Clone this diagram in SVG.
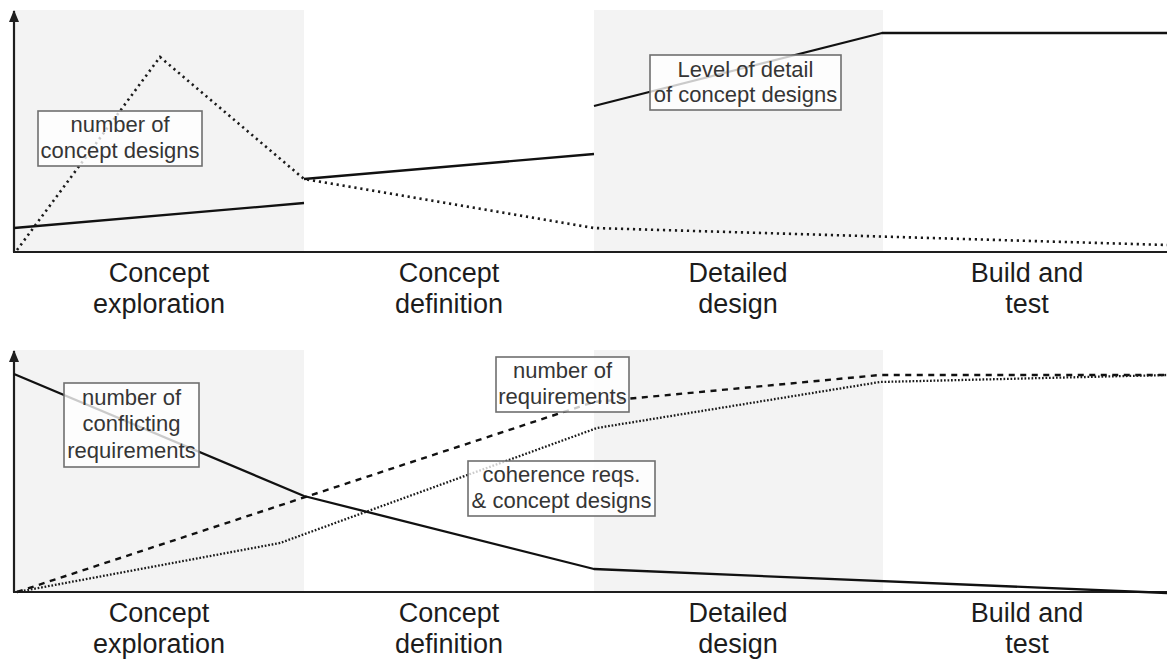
<svg xmlns="http://www.w3.org/2000/svg" width="1167" height="661" viewBox="0 0 1167 661">
  <style>
    .bg { fill: #ffffff; }
    .shade { fill: #f3f3f3; }
    .axis { stroke: #1e1e1e; stroke-width: 2.2; fill: none; }
    .solid { stroke: #111; stroke-width: 2.3; fill: none; stroke-linejoin: round; }
    .dotted { stroke: #1a1a1a; stroke-width: 2.6; fill: none; stroke-dasharray: 2.2 3.8; }
    .fine { stroke: #1a1a1a; stroke-width: 2.3; fill: none; stroke-dasharray: 1.7 1.8; }
    .dashed { stroke: #111; stroke-width: 2.4; fill: none; stroke-dasharray: 6 5.5; }
    .box { fill: #ffffff; fill-opacity: 0.78; stroke: #6f6f6f; stroke-width: 1.6; }
    .boxtext { font-family: "Liberation Sans", Arial, sans-serif; font-size: 22px; fill: #353535; text-anchor: middle; }
    .phase { font-family: "Liberation Sans", Arial, sans-serif; font-size: 27px; fill: #1c1c1c; text-anchor: middle; }
  </style>
  <defs>
    <marker id="axisArrow" viewBox="0 0 10 12" refX="5" refY="1" markerWidth="10" markerHeight="12" markerUnits="userSpaceOnUse" orient="0">
      <polygon points="5,0 10,12 0,12" fill="#1e1e1e"/>
    </marker>
  </defs>

  <rect class="bg" x="0" y="0" width="1167" height="661"/>

  <!-- phase shading, upper chart -->
  <rect class="shade" x="14" y="10" width="290" height="242"/>
  <rect class="shade" x="594" y="10" width="289" height="242"/>
  <!-- phase shading, lower chart -->
  <rect class="shade" x="14" y="350" width="290" height="242"/>
  <rect class="shade" x="594" y="350" width="289" height="242"/>

  <!-- axes -->
  <g id="axes">
    <line class="axis" x1="14" y1="252" x2="14" y2="11" marker-end="url(#axisArrow)"/>
    <line class="axis" x1="13" y1="252" x2="1167" y2="252"/>
    <line class="axis" x1="14" y1="592" x2="14" y2="351" marker-end="url(#axisArrow)"/>
    <line class="axis" x1="13" y1="592" x2="1167" y2="592"/>
  </g>

  <!-- curves -->
  <g id="connectors">
    <!-- level of detail of concept designs -->
    <polyline class="solid" points="14,228 304,203"/>
    <polyline class="solid" points="304,179 594,154"/>
    <polyline class="solid" points="594,106 882,33 1167,33"/>
    <!-- number of concept designs -->
    <polyline class="dotted" points="17,250 160,57 304,179 594,228 1167,245"/>
    <!-- number of conflicting requirements -->
    <polyline class="solid" points="14,374 304,496 594,569 1167,593"/>
    <!-- number of requirements -->
    <polyline class="dashed" points="17,592 594,402 880,375 1167,375"/>
    <!-- coherence reqs. & concept designs -->
    <polyline class="fine" points="17,592 280,543 597,428 880,382 1167,375"/>
  </g>

  <!-- curve labels -->
  <g id="label-concept-designs">
    <rect class="box" x="38" y="111" width="164" height="55"/>
    <text class="boxtext" x="120" y="132">number of</text>
    <text class="boxtext" x="120" y="158">concept designs</text>
  </g>
  <g id="label-level-of-detail">
    <rect class="box" x="650" y="55" width="191" height="55"/>
    <text class="boxtext" x="745.5" y="77">Level of detail</text>
    <text class="boxtext" x="745.5" y="102">of concept designs</text>
  </g>
  <g id="label-conflicting">
    <rect class="box" x="64" y="383" width="135" height="84"/>
    <text class="boxtext" x="131.5" y="405">number of</text>
    <text class="boxtext" x="131.5" y="431">conflicting</text>
    <text class="boxtext" x="131.5" y="458">requirements</text>
  </g>
  <g id="label-requirements">
    <rect class="box" x="496" y="357" width="133" height="55"/>
    <text class="boxtext" x="562.5" y="378">number of</text>
    <text class="boxtext" x="562.5" y="404">requirements</text>
  </g>
  <g id="label-coherence">
    <rect class="box" x="468" y="461" width="187" height="55"/>
    <text class="boxtext" x="561.5" y="482">coherence reqs.</text>
    <text class="boxtext" x="561.5" y="508">&amp; concept designs</text>
  </g>

  <!-- phase names, upper chart -->
  <g id="phases-top">
    <text class="phase" x="159" y="282">Concept</text>
    <text class="phase" x="159" y="313">exploration</text>
    <text class="phase" x="449" y="282">Concept</text>
    <text class="phase" x="449" y="313">definition</text>
    <text class="phase" x="738" y="282">Detailed</text>
    <text class="phase" x="738" y="313">design</text>
    <text class="phase" x="1027" y="282">Build and</text>
    <text class="phase" x="1027" y="313">test</text>
  </g>
  <!-- phase names, lower chart -->
  <g id="phases-bottom">
    <text class="phase" x="159" y="622">Concept</text>
    <text class="phase" x="159" y="653">exploration</text>
    <text class="phase" x="449" y="622">Concept</text>
    <text class="phase" x="449" y="653">definition</text>
    <text class="phase" x="738" y="622">Detailed</text>
    <text class="phase" x="738" y="653">design</text>
    <text class="phase" x="1027" y="622">Build and</text>
    <text class="phase" x="1027" y="653">test</text>
  </g>
</svg>
